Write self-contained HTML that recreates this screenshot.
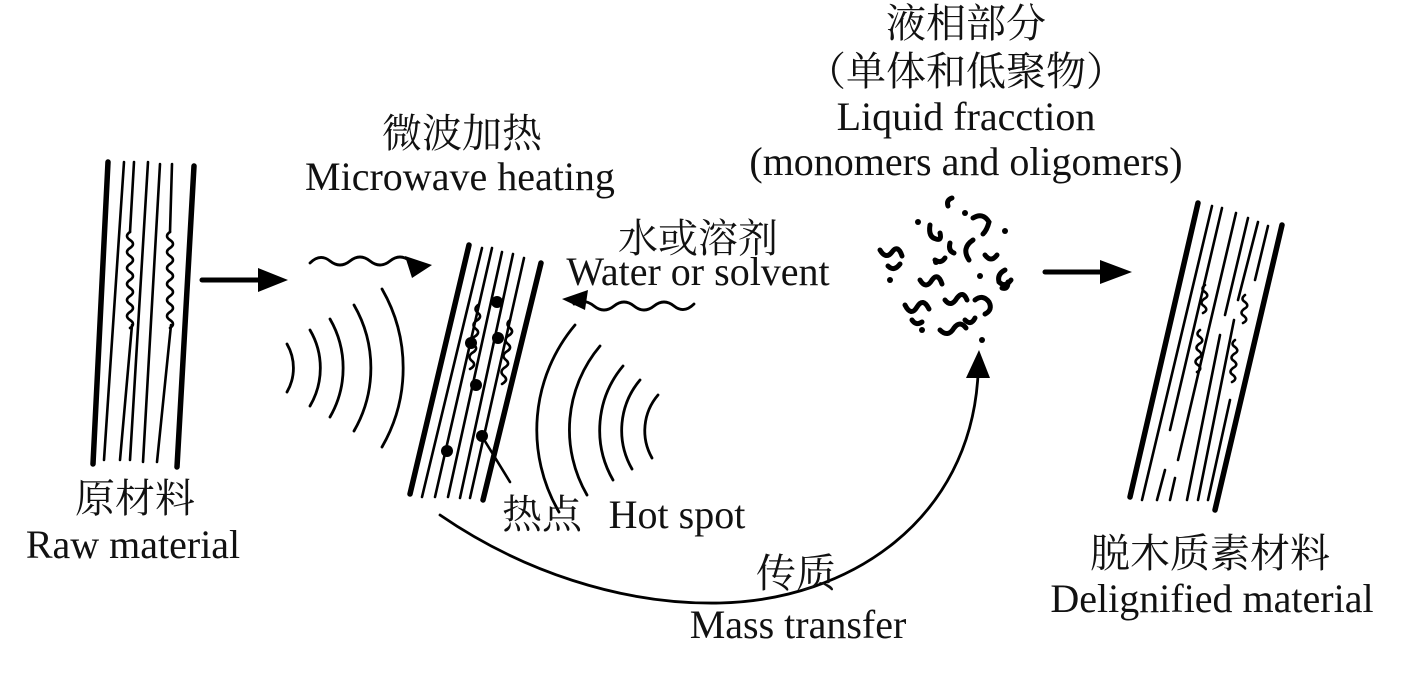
<!DOCTYPE html>
<html><head><meta charset="utf-8"><style>
body{margin:0;background:#fff;width:1402px;height:683px;overflow:hidden}
text{font-family:"Liberation Serif","Noto Serif CJK SC","Noto Sans CJK SC",serif;fill:#111}
</style></head><body>
<svg width="1402" height="683" viewBox="0 0 1402 683" xmlns="http://www.w3.org/2000/svg">
<g stroke="#000" fill="none" stroke-linecap="round">
<line x1="108" y1="162" x2="93" y2="464" stroke-width="5.5"/>
<line x1="194" y1="166" x2="177" y2="467" stroke-width="5.5"/>
<g stroke-width="2.6">
<line x1="124" y1="162" x2="104" y2="460"/>
<line x1="134" y1="162" x2="130" y2="232"/><line x1="132" y1="325" x2="120" y2="460"/>
<line x1="148" y1="162" x2="130" y2="460"/>
<line x1="160" y1="164" x2="143" y2="462"/>
<line x1="172" y1="164" x2="170" y2="232"/><line x1="171" y1="325" x2="157" y2="462"/>
<path d="M130 232 q-6 4 0 8 q6 4 0 8 q-6 4 0 8 q6 4 0 8 q-6 4 0 8 q6 4 0 8 q-6 4 0 8 q6 4 0 8 q-6 4 0 8 q6 4 0 8 q-6 4 0 8 q6 4 0 8"/>
<path d="M170 232 q-6 4 0 8 q6 4 0 8 q-6 4 0 8 q6 4 0 8 q-6 4 0 8 q6 4 0 8 q-6 4 0 8 q6 4 0 8 q-6 4 0 8 q6 4 0 8 q-6 4 0 8 q6 4 0 8"/>
</g>
<line x1="202" y1="280" x2="262" y2="280" stroke-width="5"/>
<line x1="1045" y1="272" x2="1105" y2="272" stroke-width="5"/>
<line x1="469" y1="245" x2="410" y2="494" stroke-width="5.5"/>
<line x1="541" y1="263" x2="483" y2="500" stroke-width="5.5"/>
<g stroke-width="2.6">
<line x1="482" y1="248" x2="422" y2="497"/>
<line x1="492" y1="248" x2="435" y2="497"/>
<line x1="502" y1="252" x2="448" y2="497"/>
<line x1="513" y1="254" x2="460" y2="498"/>
<line x1="524" y1="258" x2="470" y2="498"/>
<path d="M478 305 q-5 4 0 8 q5 4 -2 8 q-5 4 0 8 q5 4 -2 8 q-5 4 0 8 q5 4 -2 8 q-5 4 0 8 q5 4 -2 8"/>
<path d="M510 320 q-5 4 0 8 q5 4 -2 8 q-5 4 0 8 q5 4 -2 8 q-5 4 0 8 q5 4 -2 8 q-5 4 0 8 q5 4 -2 8"/>
<line x1="483" y1="438" x2="510" y2="482"/>
</g>
<g stroke-width="2.8">
<path d="M287 344 A48 48 0 0 1 287 392"/>
<path d="M310 330 A75 75 0 0 1 310 406"/>
<path d="M330 319 A98 98 0 0 1 330 417"/>
<path d="M354 305 A126 126 0 0 1 354 431"/>
<path d="M382 289 A158 158 0 0 1 382 447"/>
<path d="M658 395 A55 55 0 0 0 652 458"/>
<path d="M640 380 A78 78 0 0 0 632 469"/>
<path d="M623 366 A100 100 0 0 0 613 480"/>
<path d="M600 346 A130 130 0 0 0 587 495"/>
<path d="M575 325 A163 163 0 0 0 559 512"/>
<path d="M310 263 q10 -10 20 -2 q10 8 20 0 q10 -8 20 0 q10 8 20 0 q10 -8 20 0"/>
<path d="M694 304 q-10 10 -20 2 q-10 -8 -20 0 q-10 8 -20 0 q-10 -8 -20 0 q-10 8 -20 0 q-10 -8 -20 -2"/>
<path d="M440 515 C520 570 620 605 720 603 C850 600 970 520 978 375"/>
</g>
</g>
<g fill="#000">
<polygon points="258,268 288,280 258,292"/>
<polygon points="1100,260 1132,272 1100,284"/>
<polygon points="405,256 432,265 412,278"/>
<polygon points="588,290 562,299 585,310"/>
<polygon points="966,378 979,350 990,378"/>
<circle cx="471" cy="343" r="6"/><circle cx="497" cy="302" r="6"/><circle cx="498" cy="338" r="6"/>
<circle cx="476" cy="385" r="6"/><circle cx="447" cy="451" r="6"/><circle cx="482" cy="436" r="6"/>
</g>
<g stroke="#000" fill="none" stroke-linecap="round">
<line x1="1198" y1="203" x2="1130" y2="497" stroke-width="5.5"/>
<line x1="1282" y1="225" x2="1215" y2="510" stroke-width="5.5"/>
<g stroke-width="2.6">
<line x1="1212" y1="206" x2="1142" y2="500"/>
<line x1="1222" y1="208" x2="1170" y2="430"/><line x1="1165" y1="470" x2="1157" y2="500"/>
<line x1="1236" y1="213" x2="1178" y2="460"/><line x1="1175" y1="478" x2="1170" y2="500"/>
<line x1="1248" y1="218" x2="1225" y2="315"/><line x1="1220" y1="335" x2="1187" y2="500"/>
<line x1="1258" y1="222" x2="1238" y2="300"/><line x1="1234" y1="320" x2="1198" y2="500"/>
<line x1="1268" y1="226" x2="1255" y2="280"/><line x1="1230" y1="400" x2="1208" y2="500"/>
<path d="M1205 285 q-5 4 0 7 q5 4 -1 7 q-5 4 0 7 q5 4 -1 7"/>
<path d="M1245 295 q-5 4 0 7 q5 4 -1 7 q-5 4 0 7 q5 4 -1 7"/>
<path d="M1200 330 q-5 4 0 7 q5 4 -1 7 q-5 4 0 7 q5 4 -1 7 q-5 4 0 7 q5 4 -1 7"/>
<path d="M1235 340 q-5 4 0 7 q5 4 -1 7 q-5 4 0 7 q5 4 -1 7 q-5 4 0 7 q5 4 -1 7"/>
</g>
<g stroke-width="5">
<path d="M880 250 q6 10 12 2 q6 -8 10 4"/><path d="M888 266 q6 6 12 -2"/>
<path d="M930 225 q-2 12 6 14 q6 2 4 -6"/><path d="M950 243 q-2 8 4 10"/>
<path d="M973 240 q-12 8 -4 20 M973 218 q10 -6 16 4 q-2 8 -6 12"/>
<path d="M920 280 q6 10 12 0 q6 -8 10 4"/><path d="M935 260 q6 4 10 -2"/>
<path d="M945 300 q6 8 12 -2 q6 -8 10 2"/>
<path d="M905 305 q6 12 12 2 q6 -10 12 2"/>
<path d="M940 330 q8 8 14 -2 q6 -8 12 0"/>
<path d="M975 300 q8 -6 14 2 q4 8 -4 12"/><path d="M965 320 q6 6 10 -2"/>
<path d="M1005 270 q-8 4 -6 12 q6 6 12 -2"/><path d="M1002 288 q6 2 6 -6"/>
<path d="M948 206 q-2 -6 4 -8"/>
<path d="M985 255 q6 8 12 0"/><path d="M912 320 q4 6 10 2"/>
</g>
</g>
<g fill="#000"><circle cx="965" cy="213" r="3"/><circle cx="1005" cy="231" r="3"/><circle cx="890" cy="280" r="3"/><circle cx="936" cy="262" r="3"/><circle cx="980" cy="276" r="3"/><circle cx="922" cy="330" r="3"/><circle cx="982" cy="340" r="3"/><circle cx="918" cy="222" r="3"/></g>
<g font-size="40" text-anchor="middle">
<text x="462" y="147">微波加热</text>
<text x="460" y="190">Microwave heating</text>
<text x="698" y="252">水或溶剂</text>
<text x="698" y="285">Water or solvent</text>
<text x="966" y="37">液相部分</text>
<text x="966" y="85">（单体和低聚物）</text>
<text x="966" y="130">Liquid fracction</text>
<text x="966" y="175">(monomers and oligomers)</text>
<text x="135" y="512">原材料</text>
<text x="133" y="558">Raw material</text>
<text x="542" y="528">热点</text>
<text x="677" y="528">Hot spot</text>
<text x="796" y="587">传质</text>
<text x="798" y="638">Mass transfer</text>
<text x="1210" y="567">脱木质素材料</text>
<text x="1212" y="612">Delignified material</text>
</g>
</svg>
</body></html>
